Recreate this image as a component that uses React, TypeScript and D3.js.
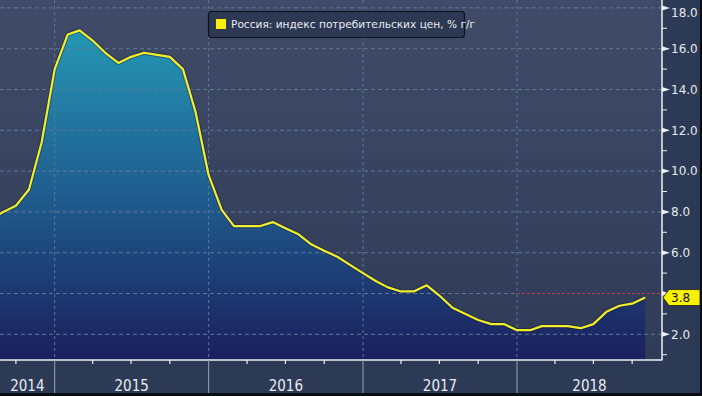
import React, { useEffect, useRef } from 'react';
import * as d3 from 'd3';

// monthly CPI y/y, starting from this month
const startMonth = '2014-08-01';
const cpi = [
  7.6, 8.0, 8.3, 9.1, 11.4,
  15.0, 16.7, 16.9, 16.4, 15.8, 15.3, 15.6, 15.8, 15.7, 15.6, 15.0, 12.9,
  9.8, 8.1, 7.3, 7.3, 7.3, 7.5, 7.2, 6.9, 6.4, 6.1, 5.8, 5.4,
  5.0, 4.6, 4.3, 4.1, 4.1, 4.4, 3.9, 3.3, 3.0, 2.7, 2.5, 2.5,
  2.2, 2.2, 2.4, 2.4, 2.4, 2.3, 2.5, 3.1, 3.4, 3.5, 3.8,
];
const years = [2014, 2015, 2016, 2017, 2018];
const majorTicks = [2, 4, 6, 8, 10, 12, 14, 16, 18];
const minorTicks = [1, 3, 5, 7, 9, 11, 13, 15, 17];
const legendLabel = 'Россия: индекс потребительских цен, % г/г';
const highlightFrom = '2018-01-01';

function App() {
  const svgRef = useRef<SVGSVGElement | null>(null);

  useEffect(() => {
    if (!svgRef.current) return;
    const svg = d3.select(svgRef.current);
    svg.selectAll('*').remove();

    const W = 702, H = 396;
    const plotR = 662, plotB = 360;

    const start = new Date(startMonth);
    const data = cpi.map((v, i) => ({ date: d3.utcMonth.offset(start, i), value: v }));
    const last = data[data.length - 1];

    const x = d3.scaleUtc()
      .domain([new Date('2015-01-01'), new Date('2018-01-01')])
      .range([54.7, 517]);
    const y = d3.scaleLinear().domain([2, 18]).range([334.3, 7.9]);

    const defs = svg.append('defs');
    const bg = defs.append('linearGradient').attr('id', 'bg').attr('x1', 0).attr('x2', 0).attr('y1', 0).attr('y2', 1);
    bg.append('stop').attr('offset', 0).attr('stop-color', '#3f4b67');
    bg.append('stop').attr('offset', 1).attr('stop-color', '#2f3b57');

    const fill = defs.append('linearGradient').attr('id', 'fill')
      .attr('gradientUnits', 'userSpaceOnUse').attr('x1', 0).attr('x2', 0).attr('y1', 25).attr('y2', plotB);
    fill.append('stop').attr('offset', 0).attr('stop-color', '#2598b5');
    fill.append('stop').attr('offset', 0.5).attr('stop-color', '#1f5e8e');
    fill.append('stop').attr('offset', 1).attr('stop-color', '#1b1f5d');

    defs.append('clipPath').attr('id', 'plotClip')
      .append('rect').attr('x', 0).attr('y', 0).attr('width', plotR).attr('height', plotB);

    // backgrounds
    svg.append('rect').attr('width', W).attr('height', H).attr('fill', '#2d3a55');
    svg.append('rect').attr('width', plotR).attr('height', plotB).attr('fill', 'url(#bg)');

    const plot = svg.append('g').attr('clip-path', 'url(#plotClip)');

    // area + line
    const area = d3.area<{ date: Date; value: number }>()
      .x(d => x(d.date)).y0(plotB).y1(d => y(d.value));
    const line = d3.line<{ date: Date; value: number }>()
      .x(d => x(d.date)).y(d => y(d.value));

    plot.append('path').attr('d', area(data)).attr('fill', 'url(#fill)');

    // grid
    const hl = new Date(highlightFrom);
    majorTicks.forEach(t => {
      plot.append('line')
        .attr('x1', 0).attr('x2', t === 4 ? x(hl) : plotR)
        .attr('y1', y(t)).attr('y2', y(t))
        .attr('stroke', '#5f7899').attr('stroke-width', 1).attr('stroke-dasharray', '4,3');
    });
    years.slice(1).forEach(yr => {
      const xx = x(new Date(`${yr}-01-01`));
      plot.append('line')
        .attr('x1', xx).attr('x2', xx).attr('y1', 0).attr('y2', plotB)
        .attr('stroke', '#5f7899').attr('stroke-width', 1).attr('stroke-dasharray', '3,3');
    });
    // highlight line for latest value
    plot.append('line')
      .attr('x1', x(hl)).attr('x2', plotR).attr('y1', y(4)).attr('y2', y(4))
      .attr('stroke', '#c8384f').attr('stroke-width', 1).attr('stroke-dasharray', '3,2');

    plot.append('path').attr('d', line(data)).attr('fill', 'none')
      .attr('stroke', '#0b1230').attr('stroke-opacity', 0.35).attr('stroke-width', 4.2).attr('stroke-linejoin', 'round');
    plot.append('path').attr('d', line(data)).attr('fill', 'none')
      .attr('stroke', '#f3ee2a').attr('stroke-width', 2.2).attr('stroke-linejoin', 'round');

    // frame
    svg.append('line').attr('x1', 0).attr('x2', plotR + 0.5).attr('y1', plotB).attr('y2', plotB)
      .attr('stroke', '#eef0f4').attr('stroke-width', 1.5);
    svg.append('line').attr('x1', plotR).attr('x2', plotR).attr('y1', 0).attr('y2', plotB)
      .attr('stroke', '#eef0f4').attr('stroke-width', 1.5);

    // right axis
    majorTicks.forEach(t => {
      const yy = y(t);
      svg.append('path')
        .attr('d', `M${plotR},${yy - 2.5}L${plotR + 8},${yy}L${plotR},${yy + 2.5}Z`)
        .attr('fill', '#eef0f4');
      if (t === 4) return;
      svg.append('text')
        .attr('x', plotR + 9).attr('y', Math.max(yy, 13)).attr('dy', '0.36em')
        .attr('font-family', 'DejaVu Sans, sans-serif').attr('font-size', 12)
        .attr('fill', '#e6e9ef').text(d3.format('.1f')(t));
    });
    minorTicks.forEach(t => {
      svg.append('line').attr('x1', plotR).attr('x2', plotR + 5)
        .attr('y1', y(t)).attr('y2', y(t)).attr('stroke', '#eef0f4').attr('stroke-width', 1);
    });

    // last value label
    const ly = y(last.value);
    svg.append('path')
      .attr('d', `M${plotR + 1},${ly}L${plotR + 7},${ly - 8}L${W - 2},${ly - 8}L${W - 2},${ly + 8}L${plotR + 7},${ly + 8}Z`)
      .attr('fill', '#f7f200').attr('stroke', '#1a1a1a').attr('stroke-width', 0.8);
    svg.append('text')
      .attr('x', plotR + 9).attr('y', ly).attr('dy', '0.36em')
      .attr('font-family', 'DejaVu Sans, sans-serif').attr('font-size', 12)
      .attr('fill', '#111').text(d3.format('.1f')(last.value));

    // bottom axis: quarter ticks, year separators, year labels
    const quarters = d3.utcMonth.every(3)!.range(new Date('2014-01-01'), new Date('2019-01-01'));
    quarters.forEach(q => {
      const xx = x(q);
      if (xx < 0 || xx > plotR) return;
      if (q.getUTCMonth() === 0) {
        svg.append('line').attr('x1', xx).attr('x2', xx).attr('y1', plotB).attr('y2', H)
          .attr('stroke', '#9aa2b2').attr('stroke-width', 1);
      } else {
        svg.append('line').attr('x1', xx).attr('x2', xx).attr('y1', plotB).attr('y2', plotB + 4)
          .attr('stroke', '#eef0f4').attr('stroke-width', 1.2);
      }
    });
    years.forEach(yr => {
      const a = Math.max(0, x(new Date(`${yr}-01-01`)));
      const b = Math.min(plotR, x(new Date(`${yr + 1}-01-01`)));
      svg.append('text')
        .attr('x', (a + b) / 2).attr('y', 391).attr('text-anchor', 'middle')
        .attr('font-family', 'Liberation Sans Narrow, Arial Narrow, DejaVu Sans Condensed, sans-serif')
        .attr('font-size', 15).attr('fill', '#e8ebf1').text(yr);
    });

    // outer dark edges
    svg.append('rect').attr('x', 0).attr('y', 393).attr('width', W).attr('height', 3).attr('fill', '#0a0d14');
    svg.append('rect').attr('x', 700).attr('y', 0).attr('width', 2).attr('height', H).attr('fill', '#0a0d14');

    // legend
    const lg = svg.append('g');
    lg.append('rect').attr('x', 208.5).attr('y', 11.5).attr('width', 256).attr('height', 26).attr('rx', 3)
      .attr('fill', '#2d3852').attr('stroke', '#0d1220').attr('stroke-width', 1.2);
    lg.append('rect').attr('x', 216).attr('y', 19).attr('width', 10).attr('height', 10).attr('fill', '#f7f200');
    lg.append('text').attr('x', 231).attr('y', 24).attr('dy', '0.36em')
      .attr('font-family', 'DejaVu Sans, sans-serif').attr('font-size', 10.6)
      .attr('fill', '#e8ebf1').text(legendLabel);
  }, []);

  return (
    <svg ref={svgRef} width={702} height={396}
      style={{ position: 'absolute', left: 0, top: 0, display: 'block' }} />
  );
}

export default App;
